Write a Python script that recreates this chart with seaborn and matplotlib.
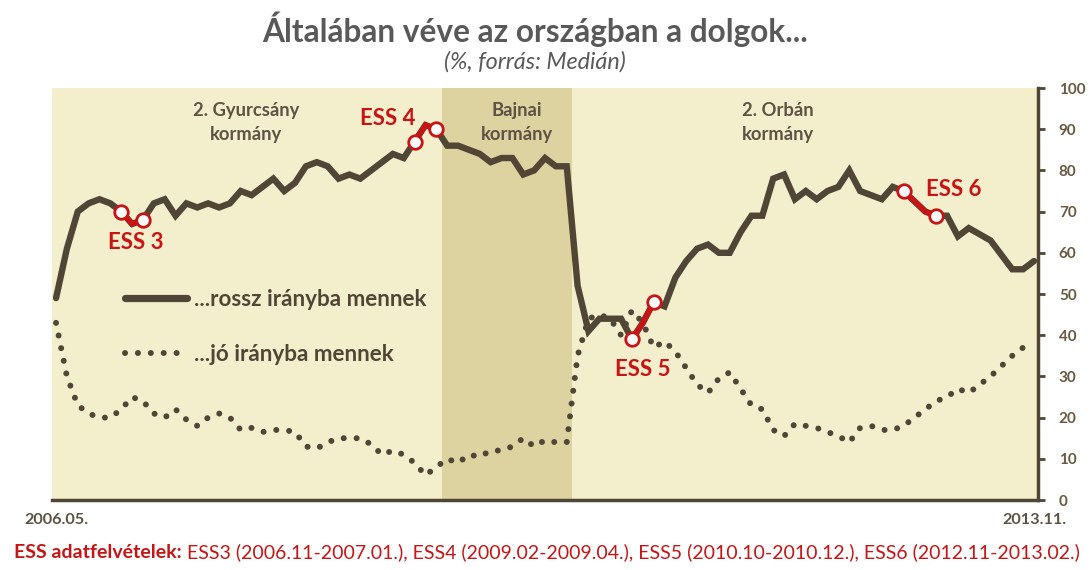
import numpy as np
import pandas as pd
import matplotlib
matplotlib.use("Agg")
import matplotlib.pyplot as plt
import seaborn as sns
from matplotlib.lines import Line2D

# ---------------- data ----------------
months = pd.period_range("2006-05", "2013-11", freq="M")
month_labels = [f"{p.year}.{p.month:02d}." for p in months]

rossz = [49, 61, 70, 72, 73, 72, 70, 67, 68, 72,
         73, 69, 72, 71, 72, 71, 72, 75, 74, 76,
         78, 75, 77, 81, 82, 81, 78, 79, 78, 80,
         82, 84, 83, 87, 91, 90, 86, 86, 85, 84,
         82, 83, 83, 79, 80, 83, 81, 81, 52, 41,
         44, 44, 44, 39, 43, 48, 47, 54, 58, 61,
         62, 60, 60, 65, 69, 69, 78, 79, 73, 75,
         73, 75, 76, 80, 75, 74, 73, 76, 75, 72.5,
         70, 69, 69, 64, 66, 64.5, 63, 59.5, 56, 56,
         58]
jo = [43, 30, 23, 21, 20, 20, 22, 25, 24, 21,
      20, 22, 19.5, 18, 20, 21, 20, 17, 17.5, 16.5,
      17, 17, 16.5, 13, 12.5, 14, 15, 15, 15, 13.5,
      11, 12, 11, 9, 6, 8, 10, 9, 11, 10.5,
      12, 12, 13, 15, 13, 14.5, 14, 14, 35, 44,
      45, 44, 40, 46, 43, 37, 38.5, 36, 32, 28,
      26, 29.5, 31, 27, 23, 22, 17, 15.5, 18.5, 18,
      17.5, 16.5, 15.5, 14, 17.5, 18, 17, 17, 18, 20,
      22, 24, 25, 27, 26, 28, 30, 32.5, 35, 37,
      np.nan]

ess_names = ["ESS 3", "ESS 4", "ESS 5", "ESS 6"]
ess_start = ["2006-11", "2009-02", "2010-10", "2012-11"]
ess_end = ["2007-01", "2009-04", "2010-12", "2013-02"]

gov_names = ["2. Gyurcsány\nkormány", "Bajnai\nkormány", "2. Orbán\nkormány"]
bajnai_start, bajnai_end = "2009-04", "2010-05"

series_names = ["...rossz irányba mennek", "...jó irányba mennek"]
title = "Általában véve az országban a dolgok..."
subtitle = "(%, forrás: Medián)"
note_bold = "ESS adatfelvételek:"
note_rest = " ESS3 (2006.11-2007.01.), ESS4 (2009.02-2009.04.), ESS5 (2010.10-2010.12.), ESS6 (2012.11-2013.02.)"

# ---------------- style ----------------
sns.set_theme(style="white")
plt.rcParams["font.family"] = ["Lato", "DejaVu Sans"]

BG = "#F3EFCD"
BAND = "#DDD3A0"
DARK = "#514636"
RED = "#C81414"
TXT = "#5E5244"
TICK = "#6A5840"

df = pd.DataFrame({"t": np.arange(len(months)), "rossz": rossz, "jo": jo})
idx = {str(p): i for i, p in enumerate(months)}

fig = plt.figure(figsize=(10.92, 5.70), dpi=100)
ax = fig.add_axes([52 / 1092, 1 - 500 / 570, 986 / 1092, 412 / 570])
ax.set_facecolor(BG)

# Bajnai band
ax.axvspan(idx[bajnai_start] + 0.5, idx[bajnai_end] - 0.5, color=BAND, lw=0, zorder=0)

# lines
sns.lineplot(data=df, x="t", y="rossz", ax=ax, color=DARK, lw=4.6,
             solid_joinstyle="miter", zorder=3)
sns.lineplot(data=df, x="t", y="jo", ax=ax, color=DARK, lw=4.3, zorder=3)
ax.lines[-1].set_linestyle((0, (0.01, 2.15)))
ax.lines[-1].set_dash_capstyle("round")

# ESS segments
for name, s, e in zip(ess_names, ess_start, ess_end):
    i0, i1 = idx[s], idx[e]
    seg = df.iloc[i0:i1 + 1]
    sns.lineplot(data=seg, x="t", y="rossz", ax=ax, color=RED, lw=4.0, zorder=4)
    ends = df.iloc[[i0, i1]]
    sns.scatterplot(data=ends, x="t", y="rossz", ax=ax, s=95, color="white",
                    edgecolor=RED, linewidth=2.0, zorder=5)

# ESS labels
ess_label_pos = [(7.3, 62.5), (30.5, 92.7), (54.0, 31.6), (82.6, 75.4)]
for name, (lx, ly) in zip(ess_names, ess_label_pos):
    ax.text(lx, ly, name, color=RED, fontsize=16, fontweight="bold",
            ha="center", va="center", zorder=6)

# government labels
gov_pos = [(17.5, 91.6), (42.4, 91.6), (66.4, 91.6)]
for name, (gx, gy) in zip(gov_names, gov_pos):
    ax.text(gx, gy, name, color=TXT, fontsize=13.2, fontweight="bold",
            ha="center", va="center", linespacing=1.45, zorder=6)

# axes formatting
ax.set_xlim(-0.37, len(months) - 1 + 0.37)
ax.set_ylim(0, 100)
ax.yaxis.tick_right()
ax.set_yticks(range(0, 101, 10))
ax.tick_params(axis="y", which="both", right=True, left=False, direction="out",
               length=5, width=2, color=DARK, labelsize=11, labelcolor=TICK, pad=10)
for lab in ax.get_yticklabels():
    lab.set_fontweight("bold")
ax.set_xticks([0, len(months) - 1])
ax.set_xticklabels([month_labels[0], month_labels[-1]], fontweight="bold",
                   color=TXT, fontsize=11.7)
ax.tick_params(axis="x", length=0, pad=9)
ax.set_xlabel("")
ax.set_ylabel("")
for side in ["top", "left"]:
    ax.spines[side].set_visible(False)
for side in ["bottom", "right"]:
    ax.spines[side].set_color(DARK)
    ax.spines[side].set_linewidth(2.5)

# legend
handles = [
    Line2D([], [], color=DARK, lw=5.2, solid_capstyle="round"),
    Line2D([], [], color=DARK, lw=4.3, linestyle=(0, (0.01, 2.15)), dash_capstyle="round"),
]
leg = ax.legend(handles, series_names, loc="upper left", bbox_to_anchor=(0.074, 0.513),
                frameon=False, fontsize=16.2, handlelength=2.75, handletextpad=0.3,
                labelspacing=1.53, borderpad=0, borderaxespad=0)
for t in leg.get_texts():
    t.set_color(DARK)
    t.set_fontweight("bold")

# titles
fig.text(0.49, 1 - 29 / 570, title, ha="center", va="center", fontsize=22.8,
         fontweight="bold", color="#595959")
fig.text(0.49, 1 - 62 / 570, subtitle, ha="center", va="center", fontsize=16.8,
         style="italic", color="#595959")

# note with bold prefix
t1 = fig.text(14 / 1092, 1 - 552 / 570, note_bold, ha="left", va="center",
              fontsize=14.0, fontweight="bold", color=RED)
fig.canvas.draw()
bb = t1.get_window_extent()
fig.text(bb.x1 / fig.bbox.width, 1 - 552 / 570, note_rest, ha="left", va="center",
         fontsize=14.0, color=RED)

fig.savefig("out.png", dpi=100, facecolor="white")
